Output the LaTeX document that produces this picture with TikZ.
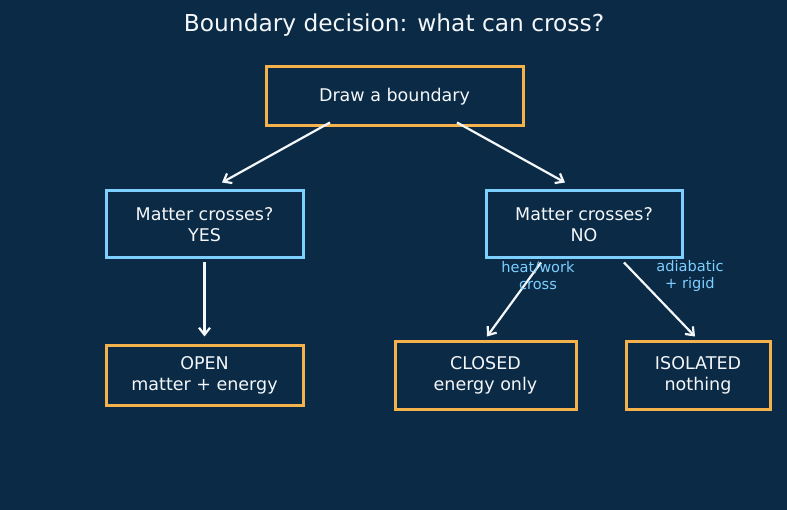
\documentclass[tikz,border=0pt]{standalone}
\usepackage{fontspec}
\setmainfont{DejaVu Sans}
\usepackage{xcolor}
\definecolor{bgnavy}{HTML}{0B2A45}
\definecolor{boxorange}{HTML}{F5B14C}
\definecolor{boxblue}{HTML}{7DCFFF}
\definecolor{txtwhite}{HTML}{F4F7FA}
\usepackage{tikz}
\usetikzlibrary{arrows.meta,positioning,calc}

\begin{document}
\begin{tikzpicture}[
  x=1pt, y=-1pt,
  font=\fontsize{17.5}{21}\selectfont,
  outcome/.style={
    rectangle, draw=boxorange, fill=bgnavy, text=txtwhite,
    line width=3pt, inner sep=0pt, align=center,
    minimum height=#1
  },
  outcome/.default=59pt,
  question/.style={
    rectangle, draw=boxblue, fill=bgnavy, text=txtwhite,
    line width=3pt, inner sep=0pt, align=center,
    minimum width=197pt, minimum height=67pt
  },
  note/.style={text=boxblue, align=center, font=\fontsize{14.6}{17}\selectfont},
  arr/.style={-{Straight Barb[length=7pt,width=11pt]}, line width=2.2pt, color=txtwhite}
]
% background and frame
\fill[bgnavy] (0,0) rectangle (787,510);
\useasboundingbox (0,0) rectangle (787,510);

\node[text=txtwhite, font=\fontsize{23.3}{27}\selectfont] (title) at (394,25)
  {Boundary decision: what can cross?};

\node[outcome, minimum width=257pt] (draw) at (394.5,96.5) {Draw a boundary};

\node[question] (yes) at (204.5,224.5) {Matter crosses?\\YES};
\node[question, minimum width=196pt] (no) at (584,224.5) {Matter crosses?\\NO};

\node[outcome, minimum width=197pt] (open) at (204.5,375.5) {OPEN\\matter + energy};
\node[outcome=67pt, minimum width=181pt] (closed) at (485.5,375.5) {CLOSED\\energy only};
\node[outcome=67pt, minimum width=144pt] (isolated) at (698,375.5) {ISOLATED\\nothing};

% arrows
\draw[arr] ([xshift=-64.5pt,yshift=5pt]draw.south) -- ([xshift=17.5pt,yshift=7pt]yes.north);
\draw[arr] ([xshift=62.5pt,yshift=5pt]draw.south) -- ([xshift=-19pt,yshift=7pt]no.north);
\draw[arr] ([yshift=-3pt]yes.south) -- ([yshift=8pt]open.north);
\draw[arr] ([xshift=-43pt,yshift=-3pt]no.south) -- ([xshift=1.5pt,yshift=4pt]closed.north);
\draw[arr] ([xshift=40pt,yshift=-3pt]no.south) -- ([xshift=-3pt,yshift=4pt]isolated.north);

\node[note] (heat) at (538,275.5) {heat/work\\cross};
\node[note] (adia) at (690,275.5) {adiabatic\\+ rigid};
\end{tikzpicture}
\end{document}
